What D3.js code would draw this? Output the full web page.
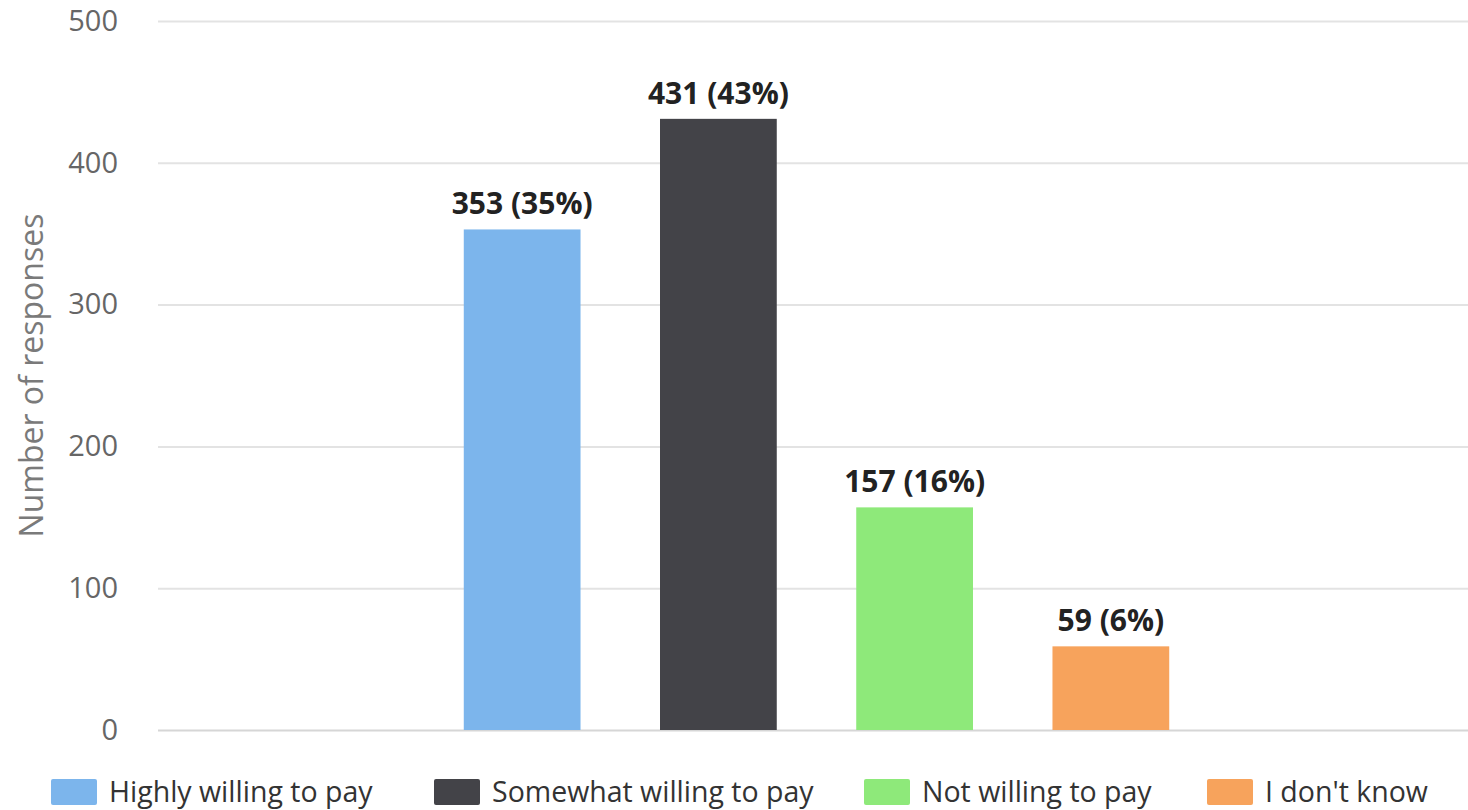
<!DOCTYPE html>
<html>
<head>
<meta charset="utf-8">
<script src="https://cdn.jsdelivr.net/npm/d3@7"></script>
<style>
  html, body { margin: 0; padding: 0; background: #fff; }
  svg { display: block; font-family: "Open Sans", sans-serif; }
</style>
</head>
<body>
<svg id="chart" width="1468" height="810"></svg>
<script>
// Survey answers: willingness to pay
const categories = ["Highly willing to pay", "Somewhat willing to pay", "Not willing to pay", "I don't know"];
const responses = [353, 431, 157, 59];
const colors = ["#7cb5ec", "#434348", "#8ee97a", "#f7a35c"];
const yTicks = [0, 100, 200, 300, 400, 500];

const total = d3.sum(responses);
const data = categories.map((c, i) => ({
  name: c,
  value: responses[i],
  pct: Math.round(responses[i] / total * 100),
  color: colors[i]
}));

const svg = d3.select("#chart");
const plot = { left: 165, right: 1468, top: 21, bottom: 730 };

const y = d3.scaleLinear().domain([0, 500]).range([plot.bottom, plot.top]);

// one group on the x axis, the four answers side by side inside it
const x0 = d3.scaleBand().domain(["all"]).range([plot.left, plot.right])
  .paddingInner(0).paddingOuter(0.33);
const x1 = d3.scaleBand().domain(categories).range([0, x0.bandwidth()])
  .paddingInner(0.405).paddingOuter(0.2025);

// grid lines
const yAxis = d3.axisLeft(y).tickValues(yTicks).tickSize(-(plot.right - plot.left + 7)).tickPadding(40);
const gAxis = svg.append("g")
  .attr("transform", `translate(${plot.left - 7},0)`)
  .call(yAxis);
gAxis.select(".domain").remove();
gAxis.selectAll(".tick line")
  .attr("stroke", d => d === 0 ? "#d6d6d6" : "#e3e3e3")
  .attr("stroke-width", 2);
gAxis.selectAll(".tick text")
  .attr("fill", "#666")
  .attr("font-size", 29)
  .attr("font-family", "Open Sans, sans-serif");

// axis title
svg.append("text")
  .attr("transform", `translate(43,${(plot.top + plot.bottom) / 2}) rotate(-90)`)
  .attr("text-anchor", "middle")
  .attr("fill", "#7a7a7a")
  .attr("font-size", 32)
  .text("Number of responses");

// bars
const g = svg.append("g").attr("transform", `translate(${x0("all")},0)`);
g.selectAll("rect.bar")
  .data(data)
  .join("rect")
  .attr("class", "bar")
  .attr("x", d => x1(d.name))
  .attr("y", d => y(d.value))
  .attr("width", x1.bandwidth())
  .attr("height", d => y(0) - y(d.value))
  .attr("fill", d => d.color);

// value labels
g.selectAll("text.label")
  .data(data)
  .join("text")
  .attr("class", "label")
  .attr("x", d => x1(d.name) + x1.bandwidth() / 2)
  .attr("y", d => y(d.value) - 15)
  .attr("text-anchor", "middle")
  .attr("font-size", 30)
  .attr("font-weight", "bold")
  .attr("fill", "#222")
  .text(d => `${d.value} (${d.pct}%)`);

// legend
const legendX = [51, 434, 864, 1207];
const legend = svg.append("g");
const items = legend.selectAll("g")
  .data(data)
  .join("g")
  .attr("transform", (d, i) => `translate(${legendX[i]},779)`);
items.append("rect")
  .attr("width", 46)
  .attr("height", 26)
  .attr("rx", 2)
  .attr("fill", d => d.color);
items.append("text")
  .attr("x", 58)
  .attr("y", 23)
  .attr("font-size", 28.5)
  .attr("fill", "#333")
  .text(d => d.name);
</script>
</body>
</html>
